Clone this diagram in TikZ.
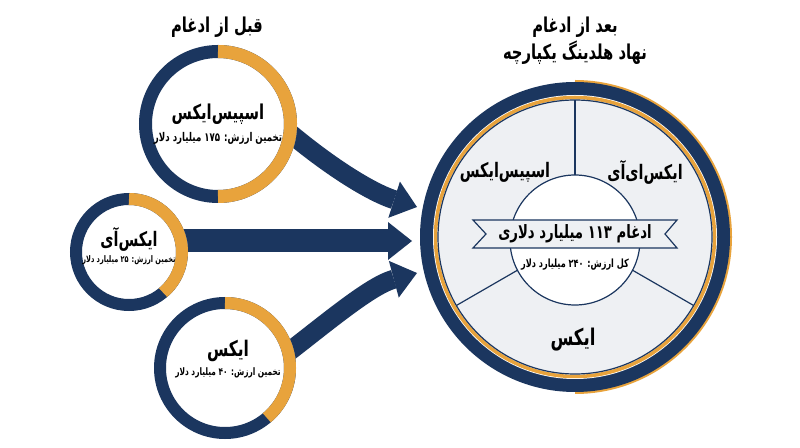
\documentclass[tikz,border=0pt]{standalone}
\usepackage{fontspec}
\TeXXeTstate=1
\newfontfamily\arabicfont[Script=Arabic,FakeStretch=0.72]{DejaVu Sans}
\usetikzlibrary{arrows.meta}
\definecolor{navy}{HTML}{1B365F}
\definecolor{gold}{HTML}{E8A33C}
\definecolor{paleg}{HTML}{EEF0F3}
\newcommand{\fa}[1]{\beginR #1\endR}
\newcommand{\fsz}[1]{\fontsize{#1}{#1}\selectfont}
\begin{document}
\begin{tikzpicture}[x=1pt,y=1pt,
  lbl/.style={inner sep=0pt, text=black, font=\arabicfont\bfseries\fsz{#1}},
  flow/.style={draw=navy, line width=#1, -{Triangle[length=24pt,width=38pt,line width=0pt]}},
  spoke/.style={navy, line width=1.2pt},
]
\useasboundingbox (0,0) rectangle (800,447);
\fill[white] (0,0) rectangle (800,447);

% centres
\coordinate (c1) at (218,323);
\coordinate (c2) at (129,195);
\coordinate (c3) at (225,79);
\coordinate (bc) at (575,210);
\coordinate (ic) at (575,207);

% arrow ends
\coordinate (s1) at (260,340);
\coordinate (t1) at (417,240);
\coordinate (s2) at (150,206);
\coordinate (t2) at (412,206);
\coordinate (s3) at (255,70);
\coordinate (t3) at (417,174);

% arrows
\draw[flow=19pt] (s1) .. controls (320,285) and (370,255) .. (t1);
\draw[flow=23pt] (s2) -- (t2);
\draw[flow=19pt] (s3) .. controls (305,105) and (365,160) .. (t3);

% small circles
\fill[white] (c1) circle (79);
\draw[navy, line width=13pt] (c1) circle (72.5);
\draw[gold, line width=13pt] ([shift={(90:72.5)}]c1) arc[start angle=90, end angle=-90, radius=72.5];

\fill[white] (c2) circle (59);
\draw[navy, line width=12pt] (c2) circle (53);
\draw[gold, line width=12pt] ([shift={(90:53)}]c2) arc[start angle=90, end angle=-50, radius=53];

\fill[white] (c3) circle (71);
\draw[navy, line width=12pt] (c3) circle (65);
\draw[gold, line width=12pt] ([shift={(90:65)}]c3) arc[start angle=90, end angle=-50, radius=65];

% big circle
\draw[gold, line width=3pt] ([shift={(90:155.5)}]bc) arc[start angle=90, end angle=-90, radius=155.5];
\fill[navy] (bc) circle (155);
\fill[white] (bc) circle (142);
\draw[gold, line width=3.5pt] (bc) circle (139.5);
\draw[navy, line width=1.2pt, fill=paleg] (bc) circle (137);
\draw[spoke] (bc) -- ([shift={(90:137)}]bc);
\draw[spoke] (bc) -- ([shift={(210:137)}]bc);
\draw[spoke] (bc) -- ([shift={(330:137)}]bc);
\draw[navy, line width=1.2pt, fill=white] (ic) circle (65);
\draw[navy, line width=1.2pt, fill=paleg] (473,227) -- (677,227) -- (665,213) -- (677,199) -- (473,199) -- (486,213) -- cycle;

% titles
\node[lbl=20.5] (tb) at (217,420) {\fa{قبل از ادغام}};
\node[lbl=20.5] (ta1) at (575,420) {\fa{بعد از ادغام}};
\node[lbl=20.5] (ta2) at (575,394) {\fa{نهاد هلدینگ یکپارچه}};

% small circle texts
\node[lbl=20.5] (n1) at (218,333) {\fa{اسپیس‌ایکس}};
\node[lbl=12] (v1) at (218,309) {\fa{تخمین ارزش: ۱۷۵ میلیارد دلار}};
\node[lbl=20] (n2) at (129,208) {\fa{ایکس‌آی}};
\node[lbl=9.1] (v2) at (129,187) {\fa{تخمین ارزش: ۲۵ میلیارد دلار}};
\node[lbl=21.5] (n3) at (228,96) {\fa{ایکس}};
\node[lbl=10.3] (v3) at (228,74) {\fa{تخمین ارزش: ۴۰ میلیارد دلار}};

% big circle texts
\node[lbl=20] (s1l) at (505,275) {\fa{اسپیس‌ایکس}};
\node[lbl=20] (s2l) at (645,275) {\fa{ایکس‌ای‌آی}};
\node[lbl=23] (s3l) at (573,107) {\fa{ایکس}};
\node[lbl=18.4] (ban) at (575,213) {\fa{ادغام ۱۱۳ میلیارد دلاری}};
\node[lbl=11.3] (tot) at (575,182) {\fa{کل ارزش: ۲۴۰ میلیارد دلار}};
\end{tikzpicture}
\end{document}
